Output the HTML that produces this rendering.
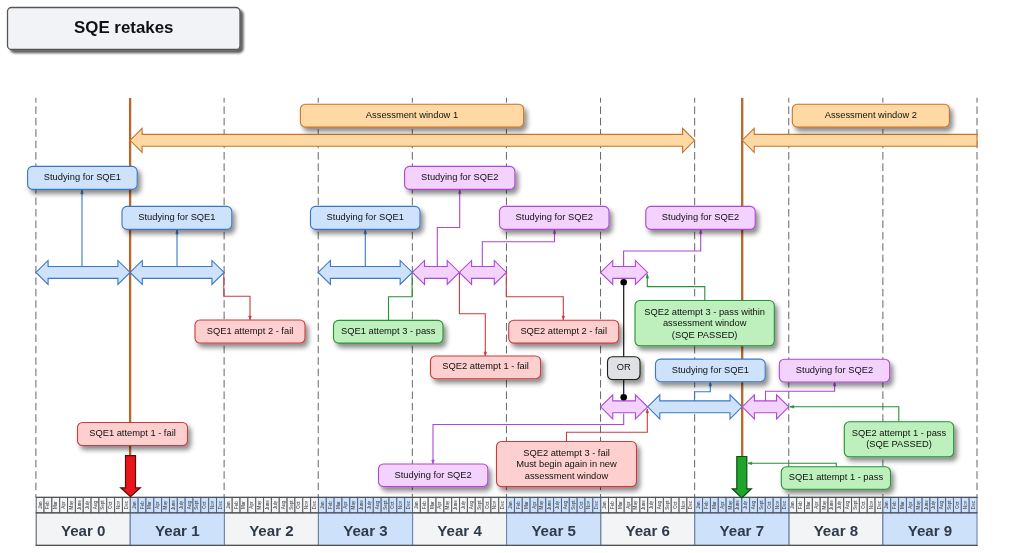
<!DOCTYPE html>
<html lang="en">
<head>
<meta charset="utf-8">
<title>SQE retakes</title>
<style>
html,body{margin:0;padding:0;background:#fff;}
body{width:1024px;height:553px;overflow:hidden;font-family:'Liberation Sans', Arial, Helvetica, sans-serif;}
svg{display:block;will-change:transform;}
svg text{font-family:'Liberation Sans', Arial, Helvetica, sans-serif;}
</style>
</head>
<body>
<svg width="1024" height="553" viewBox="0 0 1024 553">
<defs>
<filter id="sh" x="-10%" y="-40%" width="125%" height="200%">
<feGaussianBlur in="SourceAlpha" stdDeviation="2.7"/>
<feOffset dx="3.0" dy="3.6" result="b"/>
<feComponentTransfer><feFuncA type="linear" slope="0.46"/></feComponentTransfer>
<feMerge><feMergeNode/><feMergeNode in="SourceGraphic"/></feMerge>
</filter>
<filter id="sh2" x="-10%" y="-30%" width="125%" height="180%">
<feGaussianBlur in="SourceAlpha" stdDeviation="1.1"/>
<feOffset dx="2.6" dy="3.0" result="b"/>
<feComponentTransfer><feFuncA type="linear" slope="0.62"/></feComponentTransfer>
<feMerge><feMergeNode/><feMergeNode in="SourceGraphic"/></feMerge>
</filter>
</defs>
<rect width="1024" height="553" fill="#ffffff"/>
<line x1="35.90" y1="97.8" x2="35.90" y2="497" stroke="#666" stroke-width="1" stroke-dasharray="7.6 3.8" stroke-dashoffset="2.8"/>
<line x1="224.12" y1="97.8" x2="224.12" y2="497" stroke="#666" stroke-width="1" stroke-dasharray="7.6 3.8" stroke-dashoffset="2.8"/>
<line x1="318.23" y1="97.8" x2="318.23" y2="497" stroke="#666" stroke-width="1" stroke-dasharray="7.6 3.8" stroke-dashoffset="2.8"/>
<line x1="412.34" y1="97.8" x2="412.34" y2="497" stroke="#666" stroke-width="1" stroke-dasharray="7.6 3.8" stroke-dashoffset="2.8"/>
<line x1="506.45" y1="97.8" x2="506.45" y2="497" stroke="#666" stroke-width="1" stroke-dasharray="7.6 3.8" stroke-dashoffset="2.8"/>
<line x1="600.56" y1="97.8" x2="600.56" y2="497" stroke="#666" stroke-width="1" stroke-dasharray="7.6 3.8" stroke-dashoffset="2.8"/>
<line x1="694.67" y1="97.8" x2="694.67" y2="497" stroke="#666" stroke-width="1" stroke-dasharray="7.6 3.8" stroke-dashoffset="2.8"/>
<line x1="788.78" y1="97.8" x2="788.78" y2="497" stroke="#666" stroke-width="1" stroke-dasharray="7.6 3.8" stroke-dashoffset="2.8"/>
<line x1="882.89" y1="97.8" x2="882.89" y2="497" stroke="#666" stroke-width="1" stroke-dasharray="7.6 3.8" stroke-dashoffset="2.8"/>
<line x1="977.00" y1="97.8" x2="977.00" y2="497" stroke="#666" stroke-width="1" stroke-dasharray="7.6 3.8" stroke-dashoffset="2.8"/>
<rect x="36.20" y="512.8" width="94.08" height="32.60" fill="#f3f4f6" stroke="#666666" stroke-width="1.1"/>
<text x="83.24" y="536.30" font-size="15.1" font-weight="bold" text-anchor="middle" fill="#2f3b4a">Year 0</text>
<rect x="36.20" y="497.4" width="7.840" height="15.40" fill="#f3f4f6" stroke="#5c5c5c" stroke-width="1"/>
<text transform="translate(41.62,505.10) rotate(-90) scale(0.455)" font-size="10" text-anchor="middle" fill="#333">Jan</text>
<rect x="44.04" y="497.4" width="7.840" height="15.40" fill="#f3f4f6" stroke="#5c5c5c" stroke-width="1"/>
<text transform="translate(49.46,505.10) rotate(-90) scale(0.455)" font-size="10" text-anchor="middle" fill="#333">Feb</text>
<rect x="51.88" y="497.4" width="7.840" height="15.40" fill="#f3f4f6" stroke="#5c5c5c" stroke-width="1"/>
<text transform="translate(57.30,505.10) rotate(-90) scale(0.455)" font-size="10" text-anchor="middle" fill="#333">Mar</text>
<rect x="59.72" y="497.4" width="7.840" height="15.40" fill="#f3f4f6" stroke="#5c5c5c" stroke-width="1"/>
<text transform="translate(65.14,505.10) rotate(-90) scale(0.455)" font-size="10" text-anchor="middle" fill="#333">Apr</text>
<rect x="67.56" y="497.4" width="7.840" height="15.40" fill="#f3f4f6" stroke="#5c5c5c" stroke-width="1"/>
<text transform="translate(72.98,505.10) rotate(-90) scale(0.455)" font-size="10" text-anchor="middle" fill="#333">May</text>
<rect x="75.40" y="497.4" width="7.840" height="15.40" fill="#f3f4f6" stroke="#5c5c5c" stroke-width="1"/>
<text transform="translate(80.82,505.10) rotate(-90) scale(0.455)" font-size="10" text-anchor="middle" fill="#333">June</text>
<rect x="83.24" y="497.4" width="7.840" height="15.40" fill="#f3f4f6" stroke="#5c5c5c" stroke-width="1"/>
<text transform="translate(88.66,505.10) rotate(-90) scale(0.455)" font-size="10" text-anchor="middle" fill="#333">July</text>
<rect x="91.08" y="497.4" width="7.840" height="15.40" fill="#f3f4f6" stroke="#5c5c5c" stroke-width="1"/>
<text transform="translate(96.50,505.10) rotate(-90) scale(0.455)" font-size="10" text-anchor="middle" fill="#333">Aug</text>
<rect x="98.92" y="497.4" width="7.840" height="15.40" fill="#f3f4f6" stroke="#5c5c5c" stroke-width="1"/>
<text transform="translate(104.34,505.10) rotate(-90) scale(0.455)" font-size="10" text-anchor="middle" fill="#333">Sept</text>
<rect x="106.76" y="497.4" width="7.840" height="15.40" fill="#f3f4f6" stroke="#5c5c5c" stroke-width="1"/>
<text transform="translate(112.18,505.10) rotate(-90) scale(0.455)" font-size="10" text-anchor="middle" fill="#333">Oct</text>
<rect x="114.60" y="497.4" width="7.840" height="15.40" fill="#f3f4f6" stroke="#5c5c5c" stroke-width="1"/>
<text transform="translate(120.02,505.10) rotate(-90) scale(0.455)" font-size="10" text-anchor="middle" fill="#333">Nov</text>
<rect x="122.44" y="497.4" width="7.840" height="15.40" fill="#f3f4f6" stroke="#5c5c5c" stroke-width="1"/>
<text transform="translate(127.86,505.10) rotate(-90) scale(0.455)" font-size="10" text-anchor="middle" fill="#333">Dec</text>
<rect x="224.36" y="512.8" width="94.08" height="32.60" fill="#f3f4f6" stroke="#666666" stroke-width="1.1"/>
<text x="271.40" y="536.30" font-size="15.1" font-weight="bold" text-anchor="middle" fill="#2f3b4a">Year 2</text>
<rect x="224.36" y="497.4" width="7.840" height="15.40" fill="#f3f4f6" stroke="#5c5c5c" stroke-width="1"/>
<text transform="translate(229.78,505.10) rotate(-90) scale(0.455)" font-size="10" text-anchor="middle" fill="#333">Jan</text>
<rect x="232.20" y="497.4" width="7.840" height="15.40" fill="#f3f4f6" stroke="#5c5c5c" stroke-width="1"/>
<text transform="translate(237.62,505.10) rotate(-90) scale(0.455)" font-size="10" text-anchor="middle" fill="#333">Feb</text>
<rect x="240.04" y="497.4" width="7.840" height="15.40" fill="#f3f4f6" stroke="#5c5c5c" stroke-width="1"/>
<text transform="translate(245.46,505.10) rotate(-90) scale(0.455)" font-size="10" text-anchor="middle" fill="#333">Mar</text>
<rect x="247.88" y="497.4" width="7.840" height="15.40" fill="#f3f4f6" stroke="#5c5c5c" stroke-width="1"/>
<text transform="translate(253.30,505.10) rotate(-90) scale(0.455)" font-size="10" text-anchor="middle" fill="#333">Apr</text>
<rect x="255.72" y="497.4" width="7.840" height="15.40" fill="#f3f4f6" stroke="#5c5c5c" stroke-width="1"/>
<text transform="translate(261.14,505.10) rotate(-90) scale(0.455)" font-size="10" text-anchor="middle" fill="#333">May</text>
<rect x="263.56" y="497.4" width="7.840" height="15.40" fill="#f3f4f6" stroke="#5c5c5c" stroke-width="1"/>
<text transform="translate(268.98,505.10) rotate(-90) scale(0.455)" font-size="10" text-anchor="middle" fill="#333">June</text>
<rect x="271.40" y="497.4" width="7.840" height="15.40" fill="#f3f4f6" stroke="#5c5c5c" stroke-width="1"/>
<text transform="translate(276.82,505.10) rotate(-90) scale(0.455)" font-size="10" text-anchor="middle" fill="#333">July</text>
<rect x="279.24" y="497.4" width="7.840" height="15.40" fill="#f3f4f6" stroke="#5c5c5c" stroke-width="1"/>
<text transform="translate(284.66,505.10) rotate(-90) scale(0.455)" font-size="10" text-anchor="middle" fill="#333">Aug</text>
<rect x="287.08" y="497.4" width="7.840" height="15.40" fill="#f3f4f6" stroke="#5c5c5c" stroke-width="1"/>
<text transform="translate(292.50,505.10) rotate(-90) scale(0.455)" font-size="10" text-anchor="middle" fill="#333">Sept</text>
<rect x="294.92" y="497.4" width="7.840" height="15.40" fill="#f3f4f6" stroke="#5c5c5c" stroke-width="1"/>
<text transform="translate(300.34,505.10) rotate(-90) scale(0.455)" font-size="10" text-anchor="middle" fill="#333">Oct</text>
<rect x="302.76" y="497.4" width="7.840" height="15.40" fill="#f3f4f6" stroke="#5c5c5c" stroke-width="1"/>
<text transform="translate(308.18,505.10) rotate(-90) scale(0.455)" font-size="10" text-anchor="middle" fill="#333">Nov</text>
<rect x="310.60" y="497.4" width="7.840" height="15.40" fill="#f3f4f6" stroke="#5c5c5c" stroke-width="1"/>
<text transform="translate(316.02,505.10) rotate(-90) scale(0.455)" font-size="10" text-anchor="middle" fill="#333">Dec</text>
<rect x="412.52" y="512.8" width="94.08" height="32.60" fill="#f3f4f6" stroke="#666666" stroke-width="1.1"/>
<text x="459.56" y="536.30" font-size="15.1" font-weight="bold" text-anchor="middle" fill="#2f3b4a">Year 4</text>
<rect x="412.52" y="497.4" width="7.840" height="15.40" fill="#f3f4f6" stroke="#5c5c5c" stroke-width="1"/>
<text transform="translate(417.94,505.10) rotate(-90) scale(0.455)" font-size="10" text-anchor="middle" fill="#333">Jan</text>
<rect x="420.36" y="497.4" width="7.840" height="15.40" fill="#f3f4f6" stroke="#5c5c5c" stroke-width="1"/>
<text transform="translate(425.78,505.10) rotate(-90) scale(0.455)" font-size="10" text-anchor="middle" fill="#333">Feb</text>
<rect x="428.20" y="497.4" width="7.840" height="15.40" fill="#f3f4f6" stroke="#5c5c5c" stroke-width="1"/>
<text transform="translate(433.62,505.10) rotate(-90) scale(0.455)" font-size="10" text-anchor="middle" fill="#333">Mar</text>
<rect x="436.04" y="497.4" width="7.840" height="15.40" fill="#f3f4f6" stroke="#5c5c5c" stroke-width="1"/>
<text transform="translate(441.46,505.10) rotate(-90) scale(0.455)" font-size="10" text-anchor="middle" fill="#333">Apr</text>
<rect x="443.88" y="497.4" width="7.840" height="15.40" fill="#f3f4f6" stroke="#5c5c5c" stroke-width="1"/>
<text transform="translate(449.30,505.10) rotate(-90) scale(0.455)" font-size="10" text-anchor="middle" fill="#333">May</text>
<rect x="451.72" y="497.4" width="7.840" height="15.40" fill="#f3f4f6" stroke="#5c5c5c" stroke-width="1"/>
<text transform="translate(457.14,505.10) rotate(-90) scale(0.455)" font-size="10" text-anchor="middle" fill="#333">June</text>
<rect x="459.56" y="497.4" width="7.840" height="15.40" fill="#f3f4f6" stroke="#5c5c5c" stroke-width="1"/>
<text transform="translate(464.98,505.10) rotate(-90) scale(0.455)" font-size="10" text-anchor="middle" fill="#333">July</text>
<rect x="467.40" y="497.4" width="7.840" height="15.40" fill="#f3f4f6" stroke="#5c5c5c" stroke-width="1"/>
<text transform="translate(472.82,505.10) rotate(-90) scale(0.455)" font-size="10" text-anchor="middle" fill="#333">Aug</text>
<rect x="475.24" y="497.4" width="7.840" height="15.40" fill="#f3f4f6" stroke="#5c5c5c" stroke-width="1"/>
<text transform="translate(480.66,505.10) rotate(-90) scale(0.455)" font-size="10" text-anchor="middle" fill="#333">Sept</text>
<rect x="483.08" y="497.4" width="7.840" height="15.40" fill="#f3f4f6" stroke="#5c5c5c" stroke-width="1"/>
<text transform="translate(488.50,505.10) rotate(-90) scale(0.455)" font-size="10" text-anchor="middle" fill="#333">Oct</text>
<rect x="490.92" y="497.4" width="7.840" height="15.40" fill="#f3f4f6" stroke="#5c5c5c" stroke-width="1"/>
<text transform="translate(496.34,505.10) rotate(-90) scale(0.455)" font-size="10" text-anchor="middle" fill="#333">Nov</text>
<rect x="498.76" y="497.4" width="7.840" height="15.40" fill="#f3f4f6" stroke="#5c5c5c" stroke-width="1"/>
<text transform="translate(504.18,505.10) rotate(-90) scale(0.455)" font-size="10" text-anchor="middle" fill="#333">Dec</text>
<rect x="600.68" y="512.8" width="94.08" height="32.60" fill="#f3f4f6" stroke="#666666" stroke-width="1.1"/>
<text x="647.72" y="536.30" font-size="15.1" font-weight="bold" text-anchor="middle" fill="#2f3b4a">Year 6</text>
<rect x="600.68" y="497.4" width="7.840" height="15.40" fill="#f3f4f6" stroke="#5c5c5c" stroke-width="1"/>
<text transform="translate(606.10,505.10) rotate(-90) scale(0.455)" font-size="10" text-anchor="middle" fill="#333">Jan</text>
<rect x="608.52" y="497.4" width="7.840" height="15.40" fill="#f3f4f6" stroke="#5c5c5c" stroke-width="1"/>
<text transform="translate(613.94,505.10) rotate(-90) scale(0.455)" font-size="10" text-anchor="middle" fill="#333">Feb</text>
<rect x="616.36" y="497.4" width="7.840" height="15.40" fill="#f3f4f6" stroke="#5c5c5c" stroke-width="1"/>
<text transform="translate(621.78,505.10) rotate(-90) scale(0.455)" font-size="10" text-anchor="middle" fill="#333">Mar</text>
<rect x="624.20" y="497.4" width="7.840" height="15.40" fill="#f3f4f6" stroke="#5c5c5c" stroke-width="1"/>
<text transform="translate(629.62,505.10) rotate(-90) scale(0.455)" font-size="10" text-anchor="middle" fill="#333">Apr</text>
<rect x="632.04" y="497.4" width="7.840" height="15.40" fill="#f3f4f6" stroke="#5c5c5c" stroke-width="1"/>
<text transform="translate(637.46,505.10) rotate(-90) scale(0.455)" font-size="10" text-anchor="middle" fill="#333">May</text>
<rect x="639.88" y="497.4" width="7.840" height="15.40" fill="#f3f4f6" stroke="#5c5c5c" stroke-width="1"/>
<text transform="translate(645.30,505.10) rotate(-90) scale(0.455)" font-size="10" text-anchor="middle" fill="#333">June</text>
<rect x="647.72" y="497.4" width="7.840" height="15.40" fill="#f3f4f6" stroke="#5c5c5c" stroke-width="1"/>
<text transform="translate(653.14,505.10) rotate(-90) scale(0.455)" font-size="10" text-anchor="middle" fill="#333">July</text>
<rect x="655.56" y="497.4" width="7.840" height="15.40" fill="#f3f4f6" stroke="#5c5c5c" stroke-width="1"/>
<text transform="translate(660.98,505.10) rotate(-90) scale(0.455)" font-size="10" text-anchor="middle" fill="#333">Aug</text>
<rect x="663.40" y="497.4" width="7.840" height="15.40" fill="#f3f4f6" stroke="#5c5c5c" stroke-width="1"/>
<text transform="translate(668.82,505.10) rotate(-90) scale(0.455)" font-size="10" text-anchor="middle" fill="#333">Sept</text>
<rect x="671.24" y="497.4" width="7.840" height="15.40" fill="#f3f4f6" stroke="#5c5c5c" stroke-width="1"/>
<text transform="translate(676.66,505.10) rotate(-90) scale(0.455)" font-size="10" text-anchor="middle" fill="#333">Oct</text>
<rect x="679.08" y="497.4" width="7.840" height="15.40" fill="#f3f4f6" stroke="#5c5c5c" stroke-width="1"/>
<text transform="translate(684.50,505.10) rotate(-90) scale(0.455)" font-size="10" text-anchor="middle" fill="#333">Nov</text>
<rect x="686.92" y="497.4" width="7.840" height="15.40" fill="#f3f4f6" stroke="#5c5c5c" stroke-width="1"/>
<text transform="translate(692.34,505.10) rotate(-90) scale(0.455)" font-size="10" text-anchor="middle" fill="#333">Dec</text>
<rect x="788.84" y="512.8" width="94.08" height="32.60" fill="#f3f4f6" stroke="#666666" stroke-width="1.1"/>
<text x="835.88" y="536.30" font-size="15.1" font-weight="bold" text-anchor="middle" fill="#2f3b4a">Year 8</text>
<rect x="788.84" y="497.4" width="7.840" height="15.40" fill="#f3f4f6" stroke="#5c5c5c" stroke-width="1"/>
<text transform="translate(794.26,505.10) rotate(-90) scale(0.455)" font-size="10" text-anchor="middle" fill="#333">Jan</text>
<rect x="796.68" y="497.4" width="7.840" height="15.40" fill="#f3f4f6" stroke="#5c5c5c" stroke-width="1"/>
<text transform="translate(802.10,505.10) rotate(-90) scale(0.455)" font-size="10" text-anchor="middle" fill="#333">Feb</text>
<rect x="804.52" y="497.4" width="7.840" height="15.40" fill="#f3f4f6" stroke="#5c5c5c" stroke-width="1"/>
<text transform="translate(809.94,505.10) rotate(-90) scale(0.455)" font-size="10" text-anchor="middle" fill="#333">Mar</text>
<rect x="812.36" y="497.4" width="7.840" height="15.40" fill="#f3f4f6" stroke="#5c5c5c" stroke-width="1"/>
<text transform="translate(817.78,505.10) rotate(-90) scale(0.455)" font-size="10" text-anchor="middle" fill="#333">Apr</text>
<rect x="820.20" y="497.4" width="7.840" height="15.40" fill="#f3f4f6" stroke="#5c5c5c" stroke-width="1"/>
<text transform="translate(825.62,505.10) rotate(-90) scale(0.455)" font-size="10" text-anchor="middle" fill="#333">May</text>
<rect x="828.04" y="497.4" width="7.840" height="15.40" fill="#f3f4f6" stroke="#5c5c5c" stroke-width="1"/>
<text transform="translate(833.46,505.10) rotate(-90) scale(0.455)" font-size="10" text-anchor="middle" fill="#333">June</text>
<rect x="835.88" y="497.4" width="7.840" height="15.40" fill="#f3f4f6" stroke="#5c5c5c" stroke-width="1"/>
<text transform="translate(841.30,505.10) rotate(-90) scale(0.455)" font-size="10" text-anchor="middle" fill="#333">July</text>
<rect x="843.72" y="497.4" width="7.840" height="15.40" fill="#f3f4f6" stroke="#5c5c5c" stroke-width="1"/>
<text transform="translate(849.14,505.10) rotate(-90) scale(0.455)" font-size="10" text-anchor="middle" fill="#333">Aug</text>
<rect x="851.56" y="497.4" width="7.840" height="15.40" fill="#f3f4f6" stroke="#5c5c5c" stroke-width="1"/>
<text transform="translate(856.98,505.10) rotate(-90) scale(0.455)" font-size="10" text-anchor="middle" fill="#333">Sept</text>
<rect x="859.40" y="497.4" width="7.840" height="15.40" fill="#f3f4f6" stroke="#5c5c5c" stroke-width="1"/>
<text transform="translate(864.82,505.10) rotate(-90) scale(0.455)" font-size="10" text-anchor="middle" fill="#333">Oct</text>
<rect x="867.24" y="497.4" width="7.840" height="15.40" fill="#f3f4f6" stroke="#5c5c5c" stroke-width="1"/>
<text transform="translate(872.66,505.10) rotate(-90) scale(0.455)" font-size="10" text-anchor="middle" fill="#333">Nov</text>
<rect x="875.08" y="497.4" width="7.840" height="15.40" fill="#f3f4f6" stroke="#5c5c5c" stroke-width="1"/>
<text transform="translate(880.50,505.10) rotate(-90) scale(0.455)" font-size="10" text-anchor="middle" fill="#333">Dec</text>
<rect x="130.28" y="512.8" width="94.08" height="32.60" fill="#cee1fb" stroke="#6f84a8" stroke-width="1.1"/>
<text x="177.32" y="536.30" font-size="15.1" font-weight="bold" text-anchor="middle" fill="#2f3b4a">Year 1</text>
<rect x="130.28" y="497.4" width="7.840" height="15.40" fill="#cee1fb" stroke="#53668a" stroke-width="1"/>
<text transform="translate(135.70,505.10) rotate(-90) scale(0.455)" font-size="10" text-anchor="middle" fill="#333">Jan</text>
<rect x="138.12" y="497.4" width="7.840" height="15.40" fill="#cee1fb" stroke="#53668a" stroke-width="1"/>
<text transform="translate(143.54,505.10) rotate(-90) scale(0.455)" font-size="10" text-anchor="middle" fill="#333">Feb</text>
<rect x="145.96" y="497.4" width="7.840" height="15.40" fill="#cee1fb" stroke="#53668a" stroke-width="1"/>
<text transform="translate(151.38,505.10) rotate(-90) scale(0.455)" font-size="10" text-anchor="middle" fill="#333">Mar</text>
<rect x="153.80" y="497.4" width="7.840" height="15.40" fill="#cee1fb" stroke="#53668a" stroke-width="1"/>
<text transform="translate(159.22,505.10) rotate(-90) scale(0.455)" font-size="10" text-anchor="middle" fill="#333">Apr</text>
<rect x="161.64" y="497.4" width="7.840" height="15.40" fill="#cee1fb" stroke="#53668a" stroke-width="1"/>
<text transform="translate(167.06,505.10) rotate(-90) scale(0.455)" font-size="10" text-anchor="middle" fill="#333">May</text>
<rect x="169.48" y="497.4" width="7.840" height="15.40" fill="#cee1fb" stroke="#53668a" stroke-width="1"/>
<text transform="translate(174.90,505.10) rotate(-90) scale(0.455)" font-size="10" text-anchor="middle" fill="#333">June</text>
<rect x="177.32" y="497.4" width="7.840" height="15.40" fill="#cee1fb" stroke="#53668a" stroke-width="1"/>
<text transform="translate(182.74,505.10) rotate(-90) scale(0.455)" font-size="10" text-anchor="middle" fill="#333">July</text>
<rect x="185.16" y="497.4" width="7.840" height="15.40" fill="#cee1fb" stroke="#53668a" stroke-width="1"/>
<text transform="translate(190.58,505.10) rotate(-90) scale(0.455)" font-size="10" text-anchor="middle" fill="#333">Aug</text>
<rect x="193.00" y="497.4" width="7.840" height="15.40" fill="#cee1fb" stroke="#53668a" stroke-width="1"/>
<text transform="translate(198.42,505.10) rotate(-90) scale(0.455)" font-size="10" text-anchor="middle" fill="#333">Sept</text>
<rect x="200.84" y="497.4" width="7.840" height="15.40" fill="#cee1fb" stroke="#53668a" stroke-width="1"/>
<text transform="translate(206.26,505.10) rotate(-90) scale(0.455)" font-size="10" text-anchor="middle" fill="#333">Oct</text>
<rect x="208.68" y="497.4" width="7.840" height="15.40" fill="#cee1fb" stroke="#53668a" stroke-width="1"/>
<text transform="translate(214.10,505.10) rotate(-90) scale(0.455)" font-size="10" text-anchor="middle" fill="#333">Nov</text>
<rect x="216.52" y="497.4" width="7.840" height="15.40" fill="#cee1fb" stroke="#53668a" stroke-width="1"/>
<text transform="translate(221.94,505.10) rotate(-90) scale(0.455)" font-size="10" text-anchor="middle" fill="#333">Dec</text>
<rect x="318.44" y="512.8" width="94.08" height="32.60" fill="#cee1fb" stroke="#6f84a8" stroke-width="1.1"/>
<text x="365.48" y="536.30" font-size="15.1" font-weight="bold" text-anchor="middle" fill="#2f3b4a">Year 3</text>
<rect x="318.44" y="497.4" width="7.840" height="15.40" fill="#cee1fb" stroke="#53668a" stroke-width="1"/>
<text transform="translate(323.86,505.10) rotate(-90) scale(0.455)" font-size="10" text-anchor="middle" fill="#333">Jan</text>
<rect x="326.28" y="497.4" width="7.840" height="15.40" fill="#cee1fb" stroke="#53668a" stroke-width="1"/>
<text transform="translate(331.70,505.10) rotate(-90) scale(0.455)" font-size="10" text-anchor="middle" fill="#333">Feb</text>
<rect x="334.12" y="497.4" width="7.840" height="15.40" fill="#cee1fb" stroke="#53668a" stroke-width="1"/>
<text transform="translate(339.54,505.10) rotate(-90) scale(0.455)" font-size="10" text-anchor="middle" fill="#333">Mar</text>
<rect x="341.96" y="497.4" width="7.840" height="15.40" fill="#cee1fb" stroke="#53668a" stroke-width="1"/>
<text transform="translate(347.38,505.10) rotate(-90) scale(0.455)" font-size="10" text-anchor="middle" fill="#333">Apr</text>
<rect x="349.80" y="497.4" width="7.840" height="15.40" fill="#cee1fb" stroke="#53668a" stroke-width="1"/>
<text transform="translate(355.22,505.10) rotate(-90) scale(0.455)" font-size="10" text-anchor="middle" fill="#333">May</text>
<rect x="357.64" y="497.4" width="7.840" height="15.40" fill="#cee1fb" stroke="#53668a" stroke-width="1"/>
<text transform="translate(363.06,505.10) rotate(-90) scale(0.455)" font-size="10" text-anchor="middle" fill="#333">June</text>
<rect x="365.48" y="497.4" width="7.840" height="15.40" fill="#cee1fb" stroke="#53668a" stroke-width="1"/>
<text transform="translate(370.90,505.10) rotate(-90) scale(0.455)" font-size="10" text-anchor="middle" fill="#333">July</text>
<rect x="373.32" y="497.4" width="7.840" height="15.40" fill="#cee1fb" stroke="#53668a" stroke-width="1"/>
<text transform="translate(378.74,505.10) rotate(-90) scale(0.455)" font-size="10" text-anchor="middle" fill="#333">Aug</text>
<rect x="381.16" y="497.4" width="7.840" height="15.40" fill="#cee1fb" stroke="#53668a" stroke-width="1"/>
<text transform="translate(386.58,505.10) rotate(-90) scale(0.455)" font-size="10" text-anchor="middle" fill="#333">Sept</text>
<rect x="389.00" y="497.4" width="7.840" height="15.40" fill="#cee1fb" stroke="#53668a" stroke-width="1"/>
<text transform="translate(394.42,505.10) rotate(-90) scale(0.455)" font-size="10" text-anchor="middle" fill="#333">Oct</text>
<rect x="396.84" y="497.4" width="7.840" height="15.40" fill="#cee1fb" stroke="#53668a" stroke-width="1"/>
<text transform="translate(402.26,505.10) rotate(-90) scale(0.455)" font-size="10" text-anchor="middle" fill="#333">Nov</text>
<rect x="404.68" y="497.4" width="7.840" height="15.40" fill="#cee1fb" stroke="#53668a" stroke-width="1"/>
<text transform="translate(410.10,505.10) rotate(-90) scale(0.455)" font-size="10" text-anchor="middle" fill="#333">Dec</text>
<rect x="506.60" y="512.8" width="94.08" height="32.60" fill="#cee1fb" stroke="#6f84a8" stroke-width="1.1"/>
<text x="553.64" y="536.30" font-size="15.1" font-weight="bold" text-anchor="middle" fill="#2f3b4a">Year 5</text>
<rect x="506.60" y="497.4" width="7.840" height="15.40" fill="#cee1fb" stroke="#53668a" stroke-width="1"/>
<text transform="translate(512.02,505.10) rotate(-90) scale(0.455)" font-size="10" text-anchor="middle" fill="#333">Jan</text>
<rect x="514.44" y="497.4" width="7.840" height="15.40" fill="#cee1fb" stroke="#53668a" stroke-width="1"/>
<text transform="translate(519.86,505.10) rotate(-90) scale(0.455)" font-size="10" text-anchor="middle" fill="#333">Feb</text>
<rect x="522.28" y="497.4" width="7.840" height="15.40" fill="#cee1fb" stroke="#53668a" stroke-width="1"/>
<text transform="translate(527.70,505.10) rotate(-90) scale(0.455)" font-size="10" text-anchor="middle" fill="#333">Mar</text>
<rect x="530.12" y="497.4" width="7.840" height="15.40" fill="#cee1fb" stroke="#53668a" stroke-width="1"/>
<text transform="translate(535.54,505.10) rotate(-90) scale(0.455)" font-size="10" text-anchor="middle" fill="#333">Apr</text>
<rect x="537.96" y="497.4" width="7.840" height="15.40" fill="#cee1fb" stroke="#53668a" stroke-width="1"/>
<text transform="translate(543.38,505.10) rotate(-90) scale(0.455)" font-size="10" text-anchor="middle" fill="#333">May</text>
<rect x="545.80" y="497.4" width="7.840" height="15.40" fill="#cee1fb" stroke="#53668a" stroke-width="1"/>
<text transform="translate(551.22,505.10) rotate(-90) scale(0.455)" font-size="10" text-anchor="middle" fill="#333">June</text>
<rect x="553.64" y="497.4" width="7.840" height="15.40" fill="#cee1fb" stroke="#53668a" stroke-width="1"/>
<text transform="translate(559.06,505.10) rotate(-90) scale(0.455)" font-size="10" text-anchor="middle" fill="#333">July</text>
<rect x="561.48" y="497.4" width="7.840" height="15.40" fill="#cee1fb" stroke="#53668a" stroke-width="1"/>
<text transform="translate(566.90,505.10) rotate(-90) scale(0.455)" font-size="10" text-anchor="middle" fill="#333">Aug</text>
<rect x="569.32" y="497.4" width="7.840" height="15.40" fill="#cee1fb" stroke="#53668a" stroke-width="1"/>
<text transform="translate(574.74,505.10) rotate(-90) scale(0.455)" font-size="10" text-anchor="middle" fill="#333">Sept</text>
<rect x="577.16" y="497.4" width="7.840" height="15.40" fill="#cee1fb" stroke="#53668a" stroke-width="1"/>
<text transform="translate(582.58,505.10) rotate(-90) scale(0.455)" font-size="10" text-anchor="middle" fill="#333">Oct</text>
<rect x="585.00" y="497.4" width="7.840" height="15.40" fill="#cee1fb" stroke="#53668a" stroke-width="1"/>
<text transform="translate(590.42,505.10) rotate(-90) scale(0.455)" font-size="10" text-anchor="middle" fill="#333">Nov</text>
<rect x="592.84" y="497.4" width="7.840" height="15.40" fill="#cee1fb" stroke="#53668a" stroke-width="1"/>
<text transform="translate(598.26,505.10) rotate(-90) scale(0.455)" font-size="10" text-anchor="middle" fill="#333">Dec</text>
<rect x="694.76" y="512.8" width="94.08" height="32.60" fill="#cee1fb" stroke="#6f84a8" stroke-width="1.1"/>
<text x="741.80" y="536.30" font-size="15.1" font-weight="bold" text-anchor="middle" fill="#2f3b4a">Year 7</text>
<rect x="694.76" y="497.4" width="7.840" height="15.40" fill="#cee1fb" stroke="#53668a" stroke-width="1"/>
<text transform="translate(700.18,505.10) rotate(-90) scale(0.455)" font-size="10" text-anchor="middle" fill="#333">Jan</text>
<rect x="702.60" y="497.4" width="7.840" height="15.40" fill="#cee1fb" stroke="#53668a" stroke-width="1"/>
<text transform="translate(708.02,505.10) rotate(-90) scale(0.455)" font-size="10" text-anchor="middle" fill="#333">Feb</text>
<rect x="710.44" y="497.4" width="7.840" height="15.40" fill="#cee1fb" stroke="#53668a" stroke-width="1"/>
<text transform="translate(715.86,505.10) rotate(-90) scale(0.455)" font-size="10" text-anchor="middle" fill="#333">Mar</text>
<rect x="718.28" y="497.4" width="7.840" height="15.40" fill="#cee1fb" stroke="#53668a" stroke-width="1"/>
<text transform="translate(723.70,505.10) rotate(-90) scale(0.455)" font-size="10" text-anchor="middle" fill="#333">Apr</text>
<rect x="726.12" y="497.4" width="7.840" height="15.40" fill="#cee1fb" stroke="#53668a" stroke-width="1"/>
<text transform="translate(731.54,505.10) rotate(-90) scale(0.455)" font-size="10" text-anchor="middle" fill="#333">May</text>
<rect x="733.96" y="497.4" width="7.840" height="15.40" fill="#cee1fb" stroke="#53668a" stroke-width="1"/>
<text transform="translate(739.38,505.10) rotate(-90) scale(0.455)" font-size="10" text-anchor="middle" fill="#333">June</text>
<rect x="741.80" y="497.4" width="7.840" height="15.40" fill="#cee1fb" stroke="#53668a" stroke-width="1"/>
<text transform="translate(747.22,505.10) rotate(-90) scale(0.455)" font-size="10" text-anchor="middle" fill="#333">July</text>
<rect x="749.64" y="497.4" width="7.840" height="15.40" fill="#cee1fb" stroke="#53668a" stroke-width="1"/>
<text transform="translate(755.06,505.10) rotate(-90) scale(0.455)" font-size="10" text-anchor="middle" fill="#333">Aug</text>
<rect x="757.48" y="497.4" width="7.840" height="15.40" fill="#cee1fb" stroke="#53668a" stroke-width="1"/>
<text transform="translate(762.90,505.10) rotate(-90) scale(0.455)" font-size="10" text-anchor="middle" fill="#333">Sept</text>
<rect x="765.32" y="497.4" width="7.840" height="15.40" fill="#cee1fb" stroke="#53668a" stroke-width="1"/>
<text transform="translate(770.74,505.10) rotate(-90) scale(0.455)" font-size="10" text-anchor="middle" fill="#333">Oct</text>
<rect x="773.16" y="497.4" width="7.840" height="15.40" fill="#cee1fb" stroke="#53668a" stroke-width="1"/>
<text transform="translate(778.58,505.10) rotate(-90) scale(0.455)" font-size="10" text-anchor="middle" fill="#333">Nov</text>
<rect x="781.00" y="497.4" width="7.840" height="15.40" fill="#cee1fb" stroke="#53668a" stroke-width="1"/>
<text transform="translate(786.42,505.10) rotate(-90) scale(0.455)" font-size="10" text-anchor="middle" fill="#333">Dec</text>
<rect x="882.92" y="512.8" width="94.08" height="32.60" fill="#cee1fb" stroke="#6f84a8" stroke-width="1.1"/>
<text x="929.96" y="536.30" font-size="15.1" font-weight="bold" text-anchor="middle" fill="#2f3b4a">Year 9</text>
<rect x="882.92" y="497.4" width="7.840" height="15.40" fill="#cee1fb" stroke="#53668a" stroke-width="1"/>
<text transform="translate(888.34,505.10) rotate(-90) scale(0.455)" font-size="10" text-anchor="middle" fill="#333">Jan</text>
<rect x="890.76" y="497.4" width="7.840" height="15.40" fill="#cee1fb" stroke="#53668a" stroke-width="1"/>
<text transform="translate(896.18,505.10) rotate(-90) scale(0.455)" font-size="10" text-anchor="middle" fill="#333">Feb</text>
<rect x="898.60" y="497.4" width="7.840" height="15.40" fill="#cee1fb" stroke="#53668a" stroke-width="1"/>
<text transform="translate(904.02,505.10) rotate(-90) scale(0.455)" font-size="10" text-anchor="middle" fill="#333">Mar</text>
<rect x="906.44" y="497.4" width="7.840" height="15.40" fill="#cee1fb" stroke="#53668a" stroke-width="1"/>
<text transform="translate(911.86,505.10) rotate(-90) scale(0.455)" font-size="10" text-anchor="middle" fill="#333">Apr</text>
<rect x="914.28" y="497.4" width="7.840" height="15.40" fill="#cee1fb" stroke="#53668a" stroke-width="1"/>
<text transform="translate(919.70,505.10) rotate(-90) scale(0.455)" font-size="10" text-anchor="middle" fill="#333">May</text>
<rect x="922.12" y="497.4" width="7.840" height="15.40" fill="#cee1fb" stroke="#53668a" stroke-width="1"/>
<text transform="translate(927.54,505.10) rotate(-90) scale(0.455)" font-size="10" text-anchor="middle" fill="#333">June</text>
<rect x="929.96" y="497.4" width="7.840" height="15.40" fill="#cee1fb" stroke="#53668a" stroke-width="1"/>
<text transform="translate(935.38,505.10) rotate(-90) scale(0.455)" font-size="10" text-anchor="middle" fill="#333">July</text>
<rect x="937.80" y="497.4" width="7.840" height="15.40" fill="#cee1fb" stroke="#53668a" stroke-width="1"/>
<text transform="translate(943.22,505.10) rotate(-90) scale(0.455)" font-size="10" text-anchor="middle" fill="#333">Aug</text>
<rect x="945.64" y="497.4" width="7.840" height="15.40" fill="#cee1fb" stroke="#53668a" stroke-width="1"/>
<text transform="translate(951.06,505.10) rotate(-90) scale(0.455)" font-size="10" text-anchor="middle" fill="#333">Sept</text>
<rect x="953.48" y="497.4" width="7.840" height="15.40" fill="#cee1fb" stroke="#53668a" stroke-width="1"/>
<text transform="translate(958.90,505.10) rotate(-90) scale(0.455)" font-size="10" text-anchor="middle" fill="#333">Oct</text>
<rect x="961.32" y="497.4" width="7.840" height="15.40" fill="#cee1fb" stroke="#53668a" stroke-width="1"/>
<text transform="translate(966.74,505.10) rotate(-90) scale(0.455)" font-size="10" text-anchor="middle" fill="#333">Nov</text>
<rect x="969.16" y="497.4" width="7.840" height="15.40" fill="#cee1fb" stroke="#53668a" stroke-width="1"/>
<text transform="translate(974.58,505.10) rotate(-90) scale(0.455)" font-size="10" text-anchor="middle" fill="#333">Dec</text>
<line x1="35.70" y1="497.4" x2="977.50" y2="497.4" stroke="#505458" stroke-width="1.1"/>
<line x1="35.70" y1="512.8" x2="977.50" y2="512.8" stroke="#505458" stroke-width="1.1"/>
<line x1="35.70" y1="545.4" x2="977.50" y2="545.4" stroke="#505458" stroke-width="1.1"/>
<line x1="130.1" y1="98" x2="130.1" y2="456" stroke="#bb6527" stroke-width="2.3"/>
<line x1="742.2" y1="98" x2="742.2" y2="457" stroke="#bb6527" stroke-width="2.3"/>
<polygon points="130.10,140.30 142.10,128.30 142.10,134.40 682.60,134.40 682.60,128.30 694.60,140.30 682.60,152.30 682.60,146.20 142.10,146.20 142.10,152.30" fill="#ffd9a3" stroke="#c8742e" stroke-width="1.1" stroke-linejoin="miter"/>
<polygon points="742.20,140.30 754.20,128.30 754.20,134.40 977.00,134.40 977.00,146.20 754.20,146.20 754.20,152.30" fill="#ffd9a3" stroke="#c8742e" stroke-width="1.1" stroke-linejoin="miter"/>
<polyline points="82.00,266.00 82.00,190.00" fill="none" stroke="#3a78c4" stroke-width="1.1" stroke-linejoin="miter"/>
<polygon points="82.00,190.00 83.35,193.80 80.65,193.80" fill="#3a78c4" stroke="#3a78c4" stroke-width="0.5"/>
<polyline points="177.00,266.00 177.00,230.00" fill="none" stroke="#3a78c4" stroke-width="1.1" stroke-linejoin="miter"/>
<polygon points="177.00,230.00 178.35,233.80 175.65,233.80" fill="#3a78c4" stroke="#3a78c4" stroke-width="0.5"/>
<polyline points="365.30,266.00 365.30,230.00" fill="none" stroke="#3a78c4" stroke-width="1.1" stroke-linejoin="miter"/>
<polygon points="365.30,230.00 366.65,233.80 363.95,233.80" fill="#3a78c4" stroke="#3a78c4" stroke-width="0.5"/>
<polyline points="694.50,401.00 694.50,391.70 710.30,391.70 710.30,382.20" fill="none" stroke="#3a78c4" stroke-width="1.1" stroke-linejoin="miter"/>
<polygon points="710.30,382.20 711.65,386.00 708.95,386.00" fill="#3a78c4" stroke="#3a78c4" stroke-width="0.5"/>
<polyline points="437.30,266.00 437.30,227.50 459.70,227.50 459.70,189.80" fill="none" stroke="#ae47d4" stroke-width="1.1" stroke-linejoin="miter"/>
<polygon points="459.70,189.80 461.05,193.60 458.35,193.60" fill="#ae47d4" stroke="#ae47d4" stroke-width="0.5"/>
<polyline points="482.30,266.00 482.30,241.80 554.50,241.80 554.50,229.80" fill="none" stroke="#ae47d4" stroke-width="1.1" stroke-linejoin="miter"/>
<polygon points="554.50,229.80 555.85,233.60 553.15,233.60" fill="#ae47d4" stroke="#ae47d4" stroke-width="0.5"/>
<polyline points="623.60,266.00 623.60,251.00 700.70,251.00 700.70,229.80" fill="none" stroke="#ae47d4" stroke-width="1.1" stroke-linejoin="miter"/>
<polygon points="700.70,229.80 702.05,233.60 699.35,233.60" fill="#ae47d4" stroke="#ae47d4" stroke-width="0.5"/>
<polyline points="623.70,413.50 623.70,424.50 433.00,424.50 433.00,463.80" fill="none" stroke="#ae47d4" stroke-width="1.1" stroke-linejoin="miter"/>
<polygon points="433.00,463.80 431.65,460.00 434.35,460.00" fill="#ae47d4" stroke="#ae47d4" stroke-width="0.5"/>
<polyline points="765.50,401.00 765.50,391.20 834.60,391.20 834.60,382.20" fill="none" stroke="#ae47d4" stroke-width="1.1" stroke-linejoin="miter"/>
<polygon points="834.60,382.20 835.95,386.00 833.25,386.00" fill="#ae47d4" stroke="#ae47d4" stroke-width="0.5"/>
<polyline points="223.80,272.00 223.80,296.30 250.00,296.30 250.00,319.80" fill="none" stroke="#c93c3c" stroke-width="1.1" stroke-linejoin="miter"/>
<polygon points="250.00,319.80 248.65,316.00 251.35,316.00" fill="#c93c3c" stroke="#c93c3c" stroke-width="0.5"/>
<polyline points="459.40,272.00 459.40,313.80 485.30,313.80 485.30,355.80" fill="none" stroke="#c93c3c" stroke-width="1.1" stroke-linejoin="miter"/>
<polygon points="485.30,355.80 483.95,352.00 486.65,352.00" fill="#c93c3c" stroke="#c93c3c" stroke-width="0.5"/>
<polyline points="506.30,272.00 506.30,296.80 563.30,296.80 563.30,319.80" fill="none" stroke="#c93c3c" stroke-width="1.1" stroke-linejoin="miter"/>
<polygon points="563.30,319.80 561.95,316.00 564.65,316.00" fill="#c93c3c" stroke="#c93c3c" stroke-width="0.5"/>
<polyline points="566.50,441.50 566.50,432.30 647.30,432.30 647.30,409.00" fill="none" stroke="#c93c3c" stroke-width="1.1" stroke-linejoin="miter"/>
<polygon points="647.30,409.00 648.65,412.80 645.95,412.80" fill="#c93c3c" stroke="#c93c3c" stroke-width="0.5"/>
<polyline points="388.50,320.00 388.50,296.80 412.10,296.80 412.10,272.00" fill="none" stroke="#259334" stroke-width="1.1" stroke-linejoin="miter"/>
<polyline points="704.80,300.50 704.80,286.60 647.30,286.60 647.30,274.30" fill="none" stroke="#259334" stroke-width="1.1" stroke-linejoin="miter"/>
<polygon points="647.30,274.30 648.65,278.10 645.95,278.10" fill="#259334" stroke="#259334" stroke-width="0.5"/>
<polyline points="898.80,421.80 898.80,406.80 790.00,406.80" fill="none" stroke="#259334" stroke-width="1.1" stroke-linejoin="miter"/>
<polygon points="790.00,406.80 793.80,405.45 793.80,408.15" fill="#259334" stroke="#259334" stroke-width="0.5"/>
<polyline points="836.30,466.80 836.30,463.30 748.00,463.30" fill="none" stroke="#259334" stroke-width="1.1" stroke-linejoin="miter"/>
<polygon points="748.00,463.30 751.80,461.95 751.80,464.65" fill="#259334" stroke="#259334" stroke-width="0.5"/>
<line x1="623.7" y1="282.3" x2="623.7" y2="397.3" stroke="#111" stroke-width="1.2"/>
<polygon points="35.90,272.45 48.10,260.45 48.10,266.50 117.90,266.50 117.90,260.45 130.10,272.45 117.90,284.45 117.90,278.40 48.10,278.40 48.10,284.45" fill="#cfe2fc" stroke="#3a78c4" stroke-width="1.1" stroke-linejoin="miter"/>
<polygon points="130.10,272.45 142.30,260.45 142.30,266.50 211.92,266.50 211.92,260.45 224.12,272.45 211.92,284.45 211.92,278.40 142.30,278.40 142.30,284.45" fill="#cfe2fc" stroke="#3a78c4" stroke-width="1.1" stroke-linejoin="miter"/>
<polygon points="318.23,272.45 330.43,260.45 330.43,266.50 400.14,266.50 400.14,260.45 412.34,272.45 400.14,284.45 400.14,278.40 330.43,278.40 330.43,284.45" fill="#cfe2fc" stroke="#3a78c4" stroke-width="1.1" stroke-linejoin="miter"/>
<polygon points="412.34,272.45 424.54,260.45 424.54,266.50 447.20,266.50 447.20,260.45 459.40,272.45 447.20,284.45 447.20,278.40 424.54,278.40 424.54,284.45" fill="#f3d3fd" stroke="#ae47d4" stroke-width="1.1" stroke-linejoin="miter"/>
<polygon points="459.40,272.45 471.60,260.45 471.60,266.50 494.25,266.50 494.25,260.45 506.45,272.45 494.25,284.45 494.25,278.40 471.60,278.40 471.60,284.45" fill="#f3d3fd" stroke="#ae47d4" stroke-width="1.1" stroke-linejoin="miter"/>
<polygon points="600.56,272.45 612.76,260.45 612.76,266.50 635.40,266.50 635.40,260.45 647.60,272.45 635.40,284.45 635.40,278.40 612.76,278.40 612.76,284.45" fill="#f3d3fd" stroke="#ae47d4" stroke-width="1.1" stroke-linejoin="miter"/>
<polygon points="600.56,406.85 612.76,394.85 612.76,400.90 635.40,400.90 635.40,394.85 647.60,406.85 635.40,418.85 635.40,412.80 612.76,412.80 612.76,418.85" fill="#f3d3fd" stroke="#ae47d4" stroke-width="1.1" stroke-linejoin="miter"/>
<polygon points="647.60,406.85 659.80,394.85 659.80,400.90 730.00,400.90 730.00,394.85 742.20,406.85 730.00,418.85 730.00,412.80 659.80,412.80 659.80,418.85" fill="#cfe2fc" stroke="#3a78c4" stroke-width="1.1" stroke-linejoin="miter"/>
<polygon points="742.20,406.85 754.40,394.85 754.40,400.90 776.58,400.90 776.58,394.85 788.78,406.85 776.58,418.85 776.58,412.80 754.40,412.80 754.40,418.85" fill="#f3d3fd" stroke="#ae47d4" stroke-width="1.1" stroke-linejoin="miter"/>
<circle cx="623.7" cy="282.3" r="3.3" fill="#000"/>
<circle cx="623.7" cy="397.3" r="3.3" fill="#000"/>
<polygon points="125.50,455.60 135.50,455.60 135.50,487.80 140.30,487.80 130.50,496.80 120.70,487.80 125.50,487.80" fill="#e8151b" stroke="#5a0c0c" stroke-width="1.2" stroke-linejoin="miter"/>
<polygon points="736.80,456.50 746.80,456.50 746.80,488.80 751.40,488.80 741.80,498.00 732.20,488.80 736.80,488.80" fill="#1ea52a" stroke="#0e4f14" stroke-width="1.2" stroke-linejoin="miter"/>
<rect x="7.5" y="7.5" width="232.50" height="42.00" rx="4" ry="4" fill="#f1f3f6" stroke="#555555" stroke-width="1.3" filter="url(#sh2)"/>
<rect x="300.4" y="104.2" width="223.20" height="22.90" rx="5" ry="5" fill="#ffd9a3" stroke="#c8742e" stroke-width="1.1" filter="url(#sh)"/>
<text x="412.00" y="117.76" font-size="9.33" text-anchor="middle" fill="#111">Assessment window 1</text>
<rect x="792.3" y="104.2" width="157.10" height="22.90" rx="5" ry="5" fill="#ffd9a3" stroke="#c8742e" stroke-width="1.1" filter="url(#sh)"/>
<text x="870.85" y="117.76" font-size="9.33" text-anchor="middle" fill="#111">Assessment window 2</text>
<rect x="27.6" y="166.4" width="109.60" height="23.00" rx="5" ry="5" fill="#cfe2fc" stroke="#3a78c4" stroke-width="1.1" filter="url(#sh)"/>
<text x="82.40" y="180.01" font-size="9.33" text-anchor="middle" fill="#111">Studying for SQE1</text>
<rect x="122" y="206.4" width="109.80" height="23.00" rx="5" ry="5" fill="#cfe2fc" stroke="#3a78c4" stroke-width="1.1" filter="url(#sh)"/>
<text x="176.90" y="220.01" font-size="9.33" text-anchor="middle" fill="#111">Studying for SQE1</text>
<rect x="310.5" y="206.4" width="109.50" height="23.00" rx="5" ry="5" fill="#cfe2fc" stroke="#3a78c4" stroke-width="1.1" filter="url(#sh)"/>
<text x="365.25" y="220.01" font-size="9.33" text-anchor="middle" fill="#111">Studying for SQE1</text>
<rect x="404.6" y="166.4" width="110.30" height="23.00" rx="5" ry="5" fill="#f3d3fd" stroke="#ae47d4" stroke-width="1.1" filter="url(#sh)"/>
<text x="459.75" y="180.01" font-size="9.33" text-anchor="middle" fill="#111">Studying for SQE2</text>
<rect x="499.5" y="206.4" width="109.50" height="23.00" rx="5" ry="5" fill="#f3d3fd" stroke="#ae47d4" stroke-width="1.1" filter="url(#sh)"/>
<text x="554.25" y="220.01" font-size="9.33" text-anchor="middle" fill="#111">Studying for SQE2</text>
<rect x="645.8" y="206.4" width="109.40" height="23.00" rx="5" ry="5" fill="#f3d3fd" stroke="#ae47d4" stroke-width="1.1" filter="url(#sh)"/>
<text x="700.50" y="220.01" font-size="9.33" text-anchor="middle" fill="#111">Studying for SQE2</text>
<rect x="195" y="320" width="110.00" height="23.00" rx="5" ry="5" fill="#fdcfcf" stroke="#c93c3c" stroke-width="1.1" filter="url(#sh)"/>
<text x="250.00" y="333.61" font-size="9.33" text-anchor="middle" fill="#111">SQE1 attempt 2 - fail</text>
<rect x="333.5" y="320.4" width="109.50" height="22.70" rx="5" ry="5" fill="#bdf0bd" stroke="#259334" stroke-width="1.1" filter="url(#sh)"/>
<text x="388.25" y="333.86" font-size="9.33" text-anchor="middle" fill="#111">SQE1 attempt 3 - pass</text>
<rect x="508.7" y="320.2" width="110.00" height="22.90" rx="5" ry="5" fill="#fdcfcf" stroke="#c93c3c" stroke-width="1.1" filter="url(#sh)"/>
<text x="563.70" y="333.76" font-size="9.33" text-anchor="middle" fill="#111">SQE2 attempt 2 - fail</text>
<rect x="430.5" y="356" width="110.10" height="22.70" rx="5" ry="5" fill="#fdcfcf" stroke="#c93c3c" stroke-width="1.1" filter="url(#sh)"/>
<text x="485.55" y="369.46" font-size="9.33" text-anchor="middle" fill="#111">SQE2 attempt 1 - fail</text>
<rect x="635" y="300.5" width="139.30" height="45.30" rx="5" ry="5" fill="#bdf0bd" stroke="#259334" stroke-width="1.1" filter="url(#sh)"/>
<text x="704.65" y="315.31" font-size="9.33" text-anchor="middle" fill="#111">SQE2 attempt 3 - pass within</text>
<text x="704.65" y="326.46" font-size="9.33" text-anchor="middle" fill="#111">assessment window</text>
<text x="704.65" y="337.61" font-size="9.33" text-anchor="middle" fill="#111">(SQE PASSED)</text>
<rect x="607.5" y="356.7" width="32.50" height="22.80" rx="5" ry="5" fill="#dfe1e4" stroke="#1a1a1a" stroke-width="1.1" filter="url(#sh)"/>
<text x="623.75" y="370.21" font-size="9.33" text-anchor="middle" fill="#111">OR</text>
<rect x="655.5" y="359.1" width="109.70" height="22.60" rx="5" ry="5" fill="#cfe2fc" stroke="#3a78c4" stroke-width="1.1" filter="url(#sh)"/>
<text x="710.35" y="372.51" font-size="9.33" text-anchor="middle" fill="#111">Studying for SQE1</text>
<rect x="779.3" y="359.2" width="110.40" height="22.80" rx="5" ry="5" fill="#f3d3fd" stroke="#ae47d4" stroke-width="1.1" filter="url(#sh)"/>
<text x="834.50" y="372.71" font-size="9.33" text-anchor="middle" fill="#111">Studying for SQE2</text>
<rect x="77.5" y="422.5" width="110.00" height="23.00" rx="5" ry="5" fill="#fdcfcf" stroke="#c93c3c" stroke-width="1.1" filter="url(#sh)"/>
<text x="132.50" y="436.11" font-size="9.33" text-anchor="middle" fill="#111">SQE1 attempt 1 - fail</text>
<rect x="378.5" y="464" width="109.30" height="22.60" rx="5" ry="5" fill="#f3d3fd" stroke="#ae47d4" stroke-width="1.1" filter="url(#sh)"/>
<text x="433.15" y="478.01" font-size="9.33" text-anchor="middle" fill="#111">Studying for SQE2</text>
<rect x="496.5" y="441.5" width="140.00" height="45.10" rx="5" ry="5" fill="#fdcfcf" stroke="#c93c3c" stroke-width="1.1" filter="url(#sh)"/>
<text x="566.50" y="456.21" font-size="9.33" text-anchor="middle" fill="#111">SQE2 attempt 3 - fail</text>
<text x="566.50" y="467.36" font-size="9.33" text-anchor="middle" fill="#111">Must begin again in new</text>
<text x="566.50" y="478.51" font-size="9.33" text-anchor="middle" fill="#111">assessment window</text>
<rect x="844.3" y="421.8" width="109.40" height="35.00" rx="5" ry="5" fill="#bdf0bd" stroke="#259334" stroke-width="1.1" filter="url(#sh)"/>
<text x="899.00" y="435.54" font-size="9.33" text-anchor="middle" fill="#111">SQE2 attempt 1 - pass</text>
<text x="899.00" y="446.69" font-size="9.33" text-anchor="middle" fill="#111">(SQE PASSED)</text>
<rect x="781.3" y="466.8" width="109.20" height="22.50" rx="5" ry="5" fill="#bdf0bd" stroke="#259334" stroke-width="1.1" filter="url(#sh)"/>
<text x="835.90" y="480.16" font-size="9.33" text-anchor="middle" fill="#111">SQE1 attempt 1 - pass</text>
<text x="123.75" y="32.5" font-size="16.85" font-weight="bold" text-anchor="middle" fill="#111">SQE retakes</text>
</svg>
</body>
</html>
